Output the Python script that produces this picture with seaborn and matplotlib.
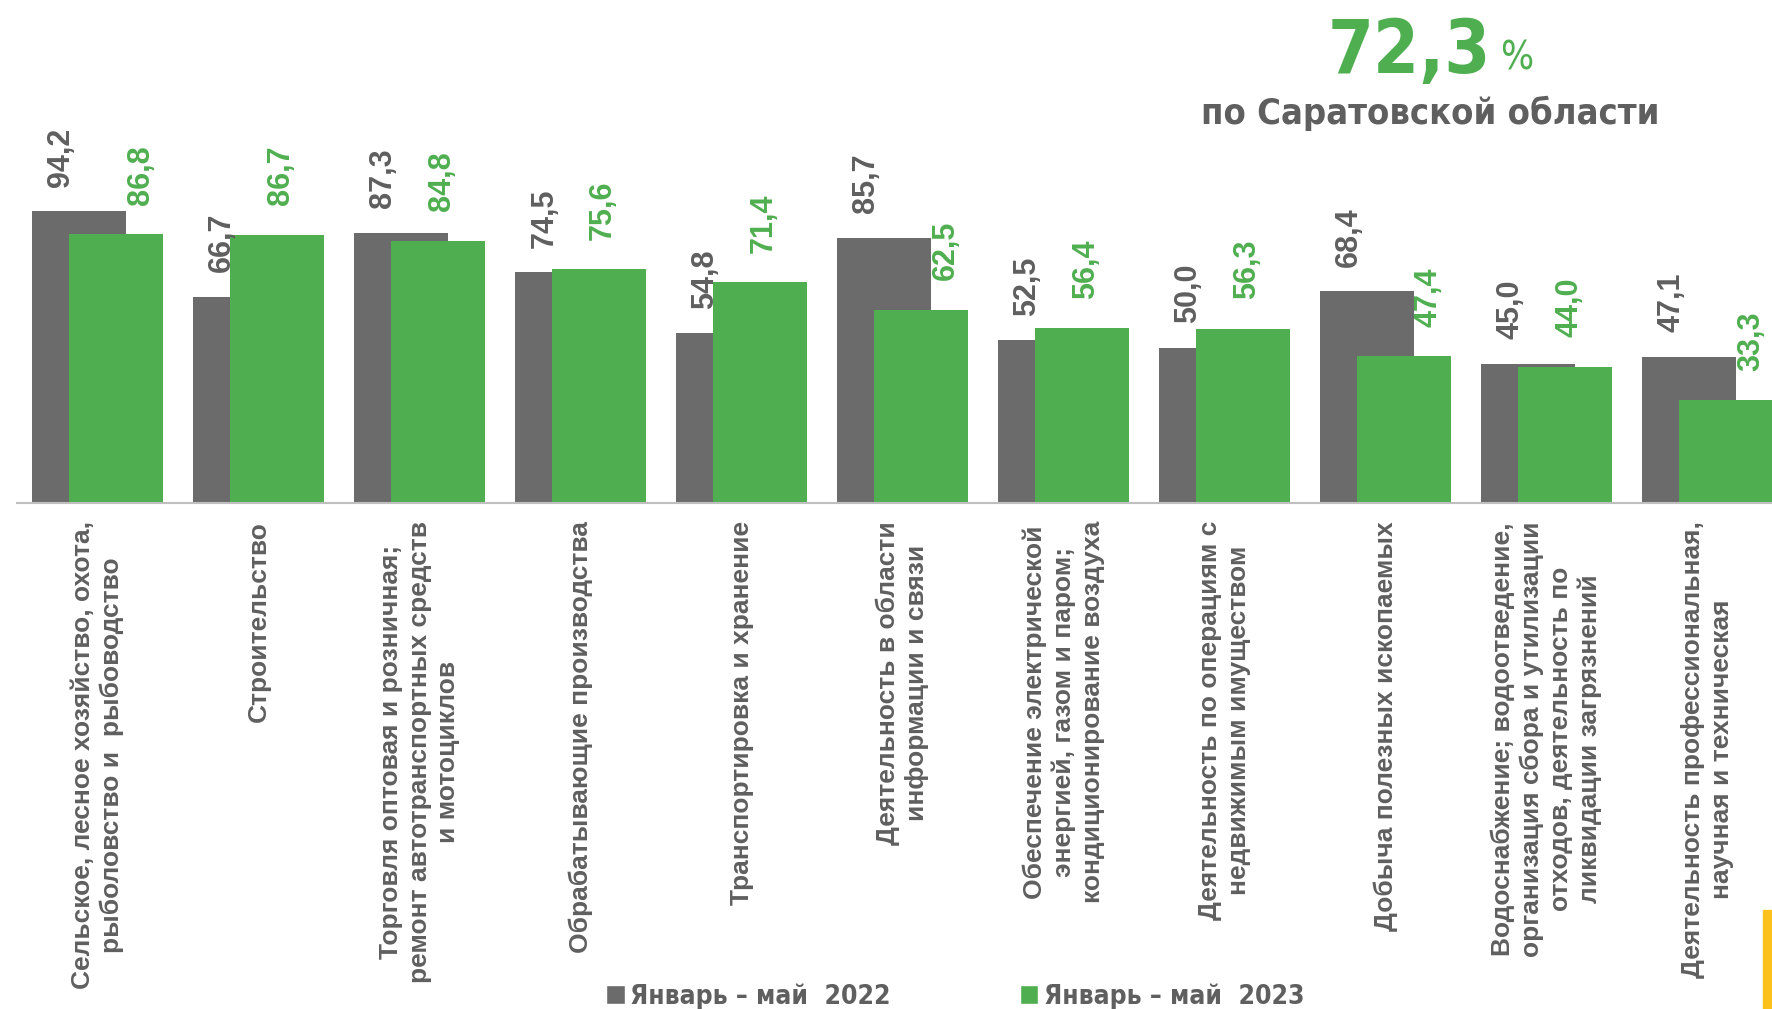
import pandas as pd
import numpy as np
import matplotlib
matplotlib.use('Agg')
import matplotlib.pyplot as plt
from matplotlib.patches import Rectangle
import seaborn as sns

# Данные: доля организаций по видам деятельности, %
categories = [
    'Сельское, лесное хозяйство, охота,\nрыболовство и  рыбоводство',
    'Строительство',
    'Торговля оптовая и розничная;\nремонт автотранспортных средств\nи мотоциклов',
    'Обрабатывающие производства',
    'Транспортировка и хранение',
    'Деятельность в области\nинформации и связи',
    'Обеспечение электрической\nэнергией, газом и паром;\nкондиционирование воздуха',
    'Деятельность по операциям с\nнедвижимым имуществом',
    'Добыча полезных ископаемых',
    'Водоснабжение; водоотведение,\nорганизация сбора и утилизации\nотходов, деятельность по\nликвидации загрязнений',
    'Деятельность профессиональная,\nнаучная и техническая',
]
values_2022 = [94.2, 66.7, 87.3, 74.5, 54.8, 85.7, 52.5, 50.0, 68.4, 45.0, 47.1]
values_2023 = [86.8, 86.7, 84.8, 75.6, 71.4, 62.5, 56.4, 56.3, 47.4, 44.0, 33.3]
series_names = ['Январь – май  2022', 'Январь – май  2023']
total_value = '72,3'
total_label = 'по Саратовской области'

GRAY = '#6b6b6b'
GREEN = '#4faf50'
TEXT_GRAY = '#5f5f5f'

sns.set_style('white')
plt.rcParams['font.family'] = ['Liberation Sans', 'DejaVu Sans']

df = pd.DataFrame({
    'Вид': categories * 2,
    'Значение': values_2022 + values_2023,
    'Период': [series_names[0]] * len(categories) + [series_names[1]] * len(categories),
})

W, H = 1772, 1009
fig = plt.figure(figsize=(W / 100, H / 100), dpi=100)
ax = fig.add_axes([17 / W, 1 - 503 / H, 1 - 17 / W, 503 / H])

sns.barplot(data=df, x='Вид', y='Значение', hue='Период',
            palette=[GRAY, GREEN], saturation=1, width=0.46, dodge=True,
            ax=ax)

# расширяем столбцы, чтобы они перекрывались
bar_w = 0.588
for cont in ax.containers:
    for p in cont.patches:
        cx = p.get_x() + p.get_width() / 2
        p.set_x(cx - bar_w / 2)
        p.set_width(bar_w)
        p.set_edgecolor('none')

ax.set_xlim(-0.5, -0.5 + (W - 17) / 161)
ax.set_ylim(0, 162.5)

# подписи значений (зелёную сдвигаем вправо, если серый столбец выше)
for i, (v1, v2) in enumerate(zip(values_2022, values_2023)):
    ax.text(i - 0.225, v1 + 8, f'{v1:.1f}'.replace('.', ','), rotation=90,
            ha='center', va='bottom', fontsize=22, fontweight='bold',
            color=TEXT_GRAY)
    dx = 0.27 if v1 > v2 + 3 else 0.14
    ax.text(i + dx, v2 + 9.5, f'{v2:.1f}'.replace('.', ','), rotation=90,
            ha='center', va='bottom', fontsize=22, fontweight='bold',
            color=GREEN)

for s in ['left', 'top', 'right']:
    ax.spines[s].set_visible(False)
ax.spines['bottom'].set_color('#bfbfbf')
ax.spines['bottom'].set_linewidth(1.5)
ax.set_yticks([])
ax.set_xlabel('')
ax.set_ylabel('')

ax.set_xticks(range(len(categories)))
ax.set_xticklabels(categories, rotation=90, ha='center', va='top',
                   multialignment='center', fontsize=19, fontweight='bold',
                   color=TEXT_GRAY, linespacing=1.25)
ax.set_xticks(np.arange(len(categories)) - 0.5, minor=True)
ax.tick_params(axis='x', which='major', length=0, pad=13)
ax.tick_params(axis='x', which='minor', length=6, width=1.2, color='#bfbfbf',
               direction='out')

narrow = dict(family='DejaVu Sans', stretch='condensed', weight='bold')

sns.move_legend(ax, loc='upper left', bbox_to_anchor=(593 / W, 1 - 970 / H),
                bbox_transform=fig.transFigure, ncol=2, title=None,
                frameon=False, handlelength=0.7, handleheight=0.7,
                handletextpad=0.2, columnspacing=4.9, borderpad=0,
                prop=dict(narrow, size=19))
for t in ax.get_legend().get_texts():
    t.set_color(TEXT_GRAY)

# итоговое значение по области
fig.text(1328 / W, 1 - 73 / H, total_value, fontsize=53, color=GREEN,
         va='baseline', ha='left', **narrow)
fig.text(1500 / W, 1 - 70 / H, '%', fontsize=28, color=GREEN,
         family='DejaVu Sans', stretch='condensed', va='baseline', ha='left')
fig.text(1430 / W, 1 - 124 / H, total_label, fontsize=26, color=TEXT_GRAY,
         va='baseline', ha='center', **narrow)

fig.add_artist(Rectangle((1763 / W, 0), 9 / W, 99 / H,
                         transform=fig.transFigure, color='#fcc21b'))

fig.savefig('out.png', dpi=100)
